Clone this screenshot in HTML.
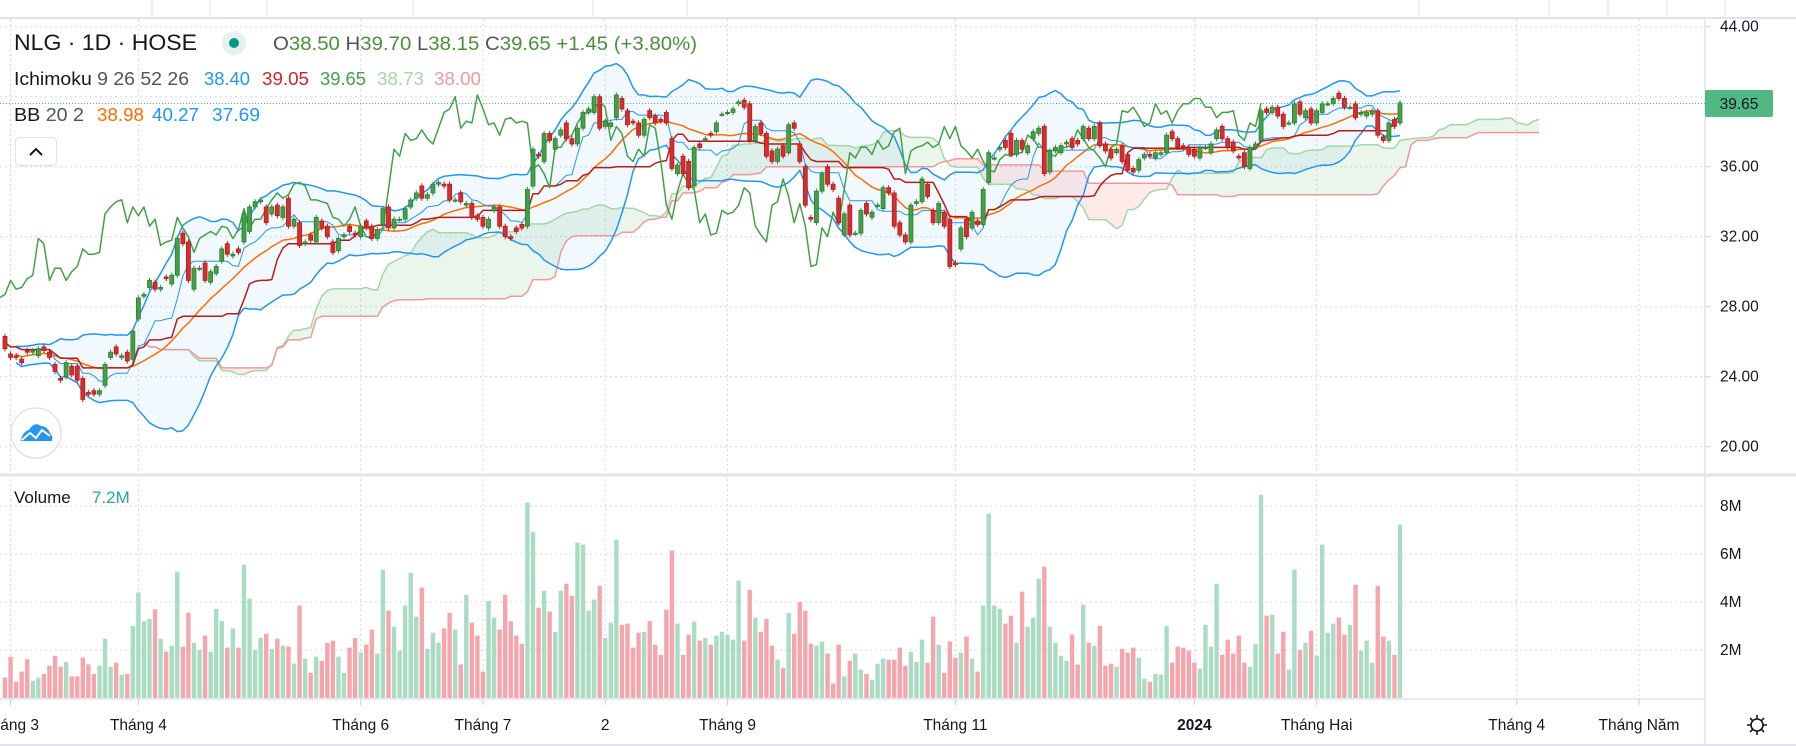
<!DOCTYPE html>
<html><head><meta charset="utf-8">
<style>
html,body{margin:0;padding:0;background:#fff;}
svg{display:block;font-family:"Liberation Sans",sans-serif;}
</style></head>
<body>
<svg id="chart" width="1796" height="746" viewBox="0 0 1796 746" xmlns="http://www.w3.org/2000/svg">
<defs>
<clipPath id="pclip"><rect x="0" y="19" width="1705" height="455"/></clipPath>
<clipPath id="vclip"><rect x="0" y="476" width="1705" height="223"/></clipPath>
</defs>
<rect x="0" y="0" width="1796" height="746" fill="#fff"/>
<g>
<line x1="0" y1="18" x2="1796" y2="18" stroke="#e0e3eb" stroke-width="2"/>
<line x1="152" y1="0" x2="152" y2="18" stroke="#e0e3eb"/>
<line x1="210" y1="0" x2="210" y2="18" stroke="#e0e3eb"/>
<line x1="267" y1="0" x2="267" y2="18" stroke="#e0e3eb"/>
<line x1="413" y1="0" x2="413" y2="18" stroke="#e0e3eb"/>
<line x1="593" y1="0" x2="593" y2="18" stroke="#e0e3eb"/>
<line x1="687" y1="0" x2="687" y2="18" stroke="#e0e3eb"/>
<line x1="1419" y1="0" x2="1419" y2="18" stroke="#e0e3eb"/>
<line x1="1549" y1="0" x2="1549" y2="18" stroke="#e0e3eb"/>
<line x1="1608" y1="0" x2="1608" y2="18" stroke="#e0e3eb"/>
<line x1="1667" y1="0" x2="1667" y2="18" stroke="#e0e3eb"/>
<line x1="1725" y1="0" x2="1725" y2="18" stroke="#e0e3eb"/>
</g>
<g id="grid"></g>
<line x1="1705" y1="18" x2="1705" y2="746" stroke="#e0e3eb" stroke-width="1.5"/>
<line x1="0" y1="475" x2="1796" y2="475" stroke="#e0e3eb" stroke-width="3"/>
<line x1="0" y1="699" x2="1705" y2="699" stroke="#e0e3eb" stroke-width="1.5"/>
<line x1="0" y1="745" x2="1796" y2="745" stroke="#e0e3eb" stroke-width="2"/>
<g id="price" clip-path="url(#pclip)"></g>
<g id="vol" clip-path="url(#vclip)"></g>
<g id="axes"></g>
<line x1="0" y1="103.5" x2="1705" y2="103.5" stroke="#4cb782" stroke-dasharray="1,2"/>
<rect x="1705" y="90" width="68" height="27" rx="2" fill="#52b883"/>
<text x="1739" y="109" font-size="15.5" fill="#131722" text-anchor="middle">39.65</text>

<g>
<text x="14" y="50" font-size="22" fill="#131722" textLength="183" lengthAdjust="spacingAndGlyphs">NLG · 1D · HOSE</text>
<circle cx="234" cy="43" r="12" fill="#e3f2ee"/>
<circle cx="234" cy="43" r="5" fill="#089981"/>
<text x="273" y="50" font-size="19" fill="#4b8f3c" textLength="424" lengthAdjust="spacingAndGlyphs"><tspan fill="#50535e">O</tspan>38.50 <tspan fill="#50535e">H</tspan>39.70 <tspan fill="#50535e">L</tspan>38.15 <tspan fill="#50535e">C</tspan>39.65 +1.45 (+3.80%)</text>
<text x="14" y="85" font-size="18" fill="#131722" textLength="175" lengthAdjust="spacingAndGlyphs">Ichimoku <tspan fill="#50535e">9 26 52 26</tspan></text>
<text x="204" y="85" font-size="18" fill="#2196f3" textLength="46" lengthAdjust="spacingAndGlyphs">38.40</text>
<text x="262" y="85" font-size="18" fill="#c62828" textLength="47" lengthAdjust="spacingAndGlyphs">39.05</text>
<text x="320" y="85" font-size="18" fill="#43a047" textLength="46" lengthAdjust="spacingAndGlyphs">39.65</text>
<text x="377" y="85" font-size="18" fill="#a5d6a7" textLength="47" lengthAdjust="spacingAndGlyphs">38.73</text>
<text x="434" y="85" font-size="18" fill="#ef9a9a" textLength="47" lengthAdjust="spacingAndGlyphs">38.00</text>
<text x="14" y="121" font-size="18" fill="#131722" textLength="70" lengthAdjust="spacingAndGlyphs">BB <tspan fill="#50535e">20 2</tspan></text>
<text x="97" y="121" font-size="18" fill="#ff6d00" textLength="47" lengthAdjust="spacingAndGlyphs">38.98</text>
<text x="152" y="121" font-size="18" fill="#2196f3" textLength="47" lengthAdjust="spacingAndGlyphs">40.27</text>
<text x="212" y="121" font-size="18" fill="#2196f3" textLength="48" lengthAdjust="spacingAndGlyphs">37.69</text>
<text x="14" y="503" font-size="17" fill="#131722">Volume</text>
<text x="92" y="503" font-size="17" fill="#22ab94">7.2M</text>
</g>
<g>
<rect x="15.5" y="137.5" width="41" height="28" rx="4" fill="#fff" stroke="#e0e3eb"/>
<path d="M30 155 L36 149 L42 155" fill="none" stroke="#131722" stroke-width="2"/>
</g>
<g>
<circle cx="36" cy="433" r="25" fill="#fff" stroke="#e0e3eb" stroke-width="1.5"/>
<path d="M21 441 Q22 432 29 430 Q34 421 41 426 Q47 426 50 433 Q53 436 52 441 Z" fill="#2196f3"/>
<path d="M22 440 L30 433 L36 438 L42 430 L50 436" fill="none" stroke="#fff" stroke-width="2"/>
</g>
<g transform="translate(1757,725)">
<circle cx="0" cy="0" r="6" fill="none" stroke="#131722" stroke-width="1.6"/>
<path d="M0 -10 V-6 M0 6 V10 M-10 0 H-6 M6 0 H10 M-7 -7 L-4.2 -4.2 M4.2 4.2 L7 7 M-7 7 L-4.2 4.2 M4.2 -4.2 L7 -7" stroke="#131722" stroke-width="1.6"/>
</g>
</svg>
<script>
const opens=[26.3,25.3,25.2,25.0,25.5,25.4,25.2,25.7,25.4,24.7,
23.9,24.0,24.6,24.6,23.9,23.1,23.2,23.0,23.5,25.1,
25.7,25.1,25.4,25.0,27.3,28.6,29.1,29.4,29.0,29.7,
29.3,29.8,32.2,31.7,29.0,30.2,30.5,29.4,29.9,30.6,
31.6,30.9,31.3,31.7,32.3,33.7,34.0,33.7,33.3,33.8,
33.1,34.2,32.6,32.8,31.6,32.1,31.7,32.9,32.6,31.7,
31.2,32.0,32.6,32.2,32.0,32.9,32.6,31.9,32.7,33.7,
32.5,33.0,33.0,33.7,34.2,34.9,34.2,34.5,35.0,35.0,
35.0,34.1,34.5,33.8,33.9,33.2,33.1,32.5,33.5,33.7,
32.6,32.0,32.5,32.7,32.6,34.9,36.7,36.3,37.9,37.0,
37.8,38.5,37.6,37.3,38.2,39.1,39.1,40.0,38.3,38.3,
38.8,39.9,39.2,38.6,38.5,37.8,39.2,38.9,38.7,39.1,
37.6,35.6,36.6,36.3,34.9,37.3,37.6,37.9,38.0,39.0,
39.1,39.1,39.6,39.8,39.6,37.5,38.5,37.9,36.9,36.3,
37.2,36.8,38.5,37.3,36.0,33.1,32.8,34.6,36.0,35.0,
34.2,32.1,33.8,32.2,32.2,33.9,33.1,33.8,33.6,34.8,
34.5,32.8,32.1,31.7,33.9,34.0,35.0,33.5,32.8,33.4,
33.0,30.5,31.3,33.0,32.5,32.9,32.7,35.1,36.5,37.0,
37.5,37.9,36.7,37.5,36.8,37.6,37.9,38.3,35.7,36.9,
36.8,37.3,37.6,37.5,37.6,38.2,37.6,38.5,37.3,37.0,
36.8,37.2,36.7,35.9,35.8,36.5,36.7,36.5,36.7,36.8,
38.0,37.6,37.2,37.1,37.0,36.5,37.1,36.8,37.6,38.3,
37.6,37.4,36.6,36.8,35.9,37.1,37.5,39.3,39.1,39.4,
39.0,38.5,38.5,39.7,38.8,39.3,38.5,39.1,39.6,39.6,
40.2,39.9,39.4,39.6,39.0,38.9,39.0,39.2,37.7,37.5,
38.7,38.5];
const closes=[25.6,25.1,25.1,24.8,25.4,25.5,25.6,25.5,25.1,24.3,
23.8,24.8,24.1,23.8,22.7,23.0,23.0,23.2,24.7,25.4,
25.3,25.2,24.9,26.6,28.5,28.7,29.5,29.0,29.1,29.6,
29.8,31.9,31.6,29.5,30.2,30.2,29.5,30.0,30.3,31.3,
31.0,31.0,31.1,33.3,33.7,34.0,34.1,32.8,33.7,33.2,
33.7,32.6,33.0,31.5,31.7,31.8,33.1,32.5,32.0,31.1,
31.9,32.1,32.3,32.1,32.6,32.5,31.9,32.4,33.6,32.5,
33.0,33.0,33.6,34.1,34.5,34.2,34.4,35.0,35.1,34.9,
34.1,34.1,34.0,33.9,33.1,33.0,32.6,33.0,33.7,32.6,
32.0,31.9,32.3,32.5,34.7,37.0,36.6,37.9,37.5,37.6,
38.1,37.6,37.3,38.2,39.1,39.3,40.0,38.2,38.6,38.5,
40.1,39.3,38.4,38.5,37.8,38.7,38.8,38.5,38.6,38.5,
35.9,36.1,35.6,34.8,37.1,37.1,37.6,37.8,38.5,39.0,
39.1,39.3,39.7,39.4,37.5,38.3,37.9,36.6,36.3,37.0,
36.6,38.4,38.2,36.3,33.8,33.0,34.6,35.6,35.0,34.7,
32.8,33.3,32.1,32.2,33.5,33.3,33.4,33.8,34.8,34.5,
32.6,32.1,31.7,33.8,34.0,35.3,34.3,32.8,33.9,32.6,
30.3,30.4,32.5,32.0,33.4,32.7,34.7,36.8,36.5,37.1,
37.1,36.7,37.5,37.0,37.2,38.0,38.2,35.6,36.9,37.1,
37.2,37.4,37.1,37.3,38.3,37.6,38.3,37.2,36.9,36.5,
37.0,36.3,35.8,35.7,36.4,36.7,36.6,36.8,36.8,37.8,
37.6,37.1,37.1,36.7,36.6,37.1,37.1,37.3,38.1,37.6,
37.1,36.9,36.5,36.0,37.1,37.3,39.2,39.1,39.4,38.9,
38.3,38.5,39.6,39.0,39.2,38.5,39.2,39.6,39.6,39.9,
39.9,39.4,39.4,38.8,39.1,39.1,39.2,37.8,37.5,38.5,
38.3,39.65];
const volumes=[0.85,1.72,0.68,1.1,1.62,0.72,0.85,1.0,1.35,1.76,
1.3,1.5,0.9,0.9,1.68,1.4,1.0,1.35,2.47,1.3,
1.47,0.97,1.0,3.0,4.4,3.2,3.3,3.7,2.47,1.93,
2.18,5.26,2.14,3.55,2.3,2.0,2.6,1.93,3.72,3.2,
2.1,2.9,2.1,5.56,4.14,2.0,2.5,2.68,2.05,2.47,
2.18,2.14,1.43,3.85,1.64,1.05,1.72,1.55,2.3,2.39,
1.72,1.05,2.1,2.5,1.9,2.22,2.85,1.85,5.35,3.64,
2.97,1.97,3.85,5.22,3.39,4.6,2.05,2.72,2.3,2.9,
3.55,2.85,1.4,4.3,3.14,2.6,1.1,4.05,3.35,2.85,
4.3,3.2,2.6,2.26,8.14,6.93,3.76,4.47,3.6,2.76,
4.47,4.76,4.26,6.47,6.39,3.64,4.1,4.68,2.5,3.14,
6.6,3.05,3.1,2.1,2.72,2.76,3.2,2.22,1.8,3.68,
6.14,3.1,1.8,2.64,3.18,2.39,2.5,2.22,2.6,2.76,
2.64,2.43,4.89,2.39,4.51,3.35,2.76,3.3,2.18,1.6,
1.26,3.55,2.68,4.0,3.64,2.26,2.18,2.35,1.85,0.6,
2.22,0.9,1.55,1.85,1.18,1.0,0.76,1.43,1.64,1.6,
1.6,2.1,1.35,1.93,1.5,2.43,1.47,3.39,2.22,1.05,
2.35,1.68,1.89,2.56,1.64,1.1,3.85,7.68,3.85,3.72,
3.1,3.43,2.3,4.43,2.97,3.35,4.97,5.47,2.97,2.3,
1.76,1.55,2.64,1.39,3.89,2.3,2.18,3.0,1.35,1.43,
1.3,2.05,1.89,2.1,1.68,0.8,0.68,1.0,0.97,3.0,
1.47,2.14,2.1,1.97,1.47,1.22,3.05,2.14,4.76,1.8,
2.43,1.85,2.6,1.47,1.3,2.26,8.47,3.43,3.47,1.85,
2.76,1.18,5.35,2.0,2.3,2.8,1.76,6.39,2.72,3.1,
3.35,2.64,3.05,4.72,1.97,2.39,1.47,4.68,2.56,2.39,
1.8,7.22];
const priceTicks=[44,40,36,32,28,24,20];
const volTicks=[2,4,6,8];
const volTickLabels=["2M","4M","6M","8M"];
const monthIdx=[1,24,64,86,108,130,171,214,236,272,294];
const monthLabels=["Tháng 3","Tháng 4","Tháng 6","Tháng 7","2","Tháng 9","Tháng 11","2024","Tháng Hai","Tháng 4","Tháng Năm"];
const WICK=0.15;

const NS="http://www.w3.org/2000/svg";
const N=closes.length;
const X0=5, DX=(1400-5)/(N-1);
function xAt(i){return X0+i*DX;}
function yP(p){return 26.7+(44-p)*17.5;}
function yV(v){return 698-v*24;}
function mk(tag,attrs,parent){const e=document.createElementNS(NS,tag);for(const k in attrs)e.setAttribute(k,attrs[k]);parent.appendChild(e);return e;}
const grid=document.getElementById('grid'),price=document.getElementById('price'),vol=document.getElementById('vol'),axes=document.getElementById('axes');

priceTicks.forEach(p=>{
  const l=mk('line',{x1:0,x2:1705,y1:yP(p),y2:yP(p),stroke:'#d6d8df','stroke-dasharray':'2,3'},grid);
  
  
  const t=mk('text',{x:1720,y:yP(p)+5,'font-size':15.5,fill:'#131722'},axes);
  t.textContent=p.toFixed(2);
  
  
  const tk=mk('line',{x1:1705,x2:1711,y1:yP(p),y2:yP(p),stroke:'#d1d4dc'},axes);
  
  
});
volTicks.forEach((v,k)=>{
  const l=mk('line',{x1:0,x2:1705,y1:yV(v),y2:yV(v),stroke:'#d6d8df','stroke-dasharray':'2,3'},grid);
  
  
  const t=mk('text',{x:1720,y:yV(v)+5,'font-size':15.5,fill:'#131722'},axes);
  t.textContent=volTickLabels[k];
  
  
});
monthIdx.forEach((mi,k)=>{
  const x=xAt(mi);
  const l=mk('line',{x1:x,x2:x,y1:19,y2:699,stroke:'#d6d8df','stroke-dasharray':'2,3'},grid);
  
  
  const tk=mk('line',{x1:x,x2:x,y1:699,y2:705,stroke:'#c9ccd4'},axes);
  
  
  const t=mk('text',{x:x,y:730,'font-size':15.5,fill:'#131722','text-anchor':'middle','font-weight':monthLabels[k]==='2024'?'bold':'normal'},axes);
  t.textContent=monthLabels[k];
  
  
});

const highs=opens.map((o,i)=>Math.max(o,closes[i])+WICK);
const lows=opens.map((o,i)=>Math.min(o,closes[i])-WICK);
function midWin(i,n){let hi=-1e9,lo=1e9;for(let j=Math.max(0,i-n+1);j<=i;j++){hi=Math.max(hi,highs[j]);lo=Math.min(lo,lows[j]);}return (hi+lo)/2;}
const tenkan=[],kijun=[],spanA=[],spanB=[];
for(let i=0;i<N;i++){tenkan.push(midWin(i,9));kijun.push(midWin(i,26));spanA.push((tenkan[i]+kijun[i])/2);spanB.push(midWin(i,52));}
const SH=25;

for(let i=0;i<N-1;i++){
  const x1=xAt(i+SH),x2=xAt(i+1+SH);
  const a1=spanA[i],a2=spanA[i+1],b1=spanB[i],b2=spanB[i+1];
  const up=(a1+a2)>=(b1+b2);
  const pg=mk('polygon',{points:`${x1},${yP(a1)} ${x2},${yP(a2)} ${x2},${yP(b2)} ${x1},${yP(b1)}`,fill:up?'rgba(67,160,71,0.11)':'rgba(244,67,54,0.11)'},price);
  
  
}
function line(arr,shift,color,w,name,start){
  let d='';for(let i=start||0;i<arr.length;i++){d+=(d?'L':'M')+xAt(i+shift).toFixed(1)+' '+yP(arr[i]).toFixed(1);}
  const p=mk('path',{d:d,fill:'none',stroke:color,'stroke-width':w,'stroke-linejoin':'round'},price);
  
  
}
const bbMid=[],bbUp=[],bbLo=[];
for(let i=0;i<N;i++){const s=Math.max(0,i-19);const w=closes.slice(s,i+1);const m=w.reduce((a,b)=>a+b,0)/w.length;const sd=Math.sqrt(w.reduce((a,b)=>a+(b-m)*(b-m),0)/w.length);bbMid.push(m);bbUp.push(m+2*sd);bbLo.push(m-2*sd);}
let fd='';for(let i=2;i<N;i++)fd+=(fd?'L':'M')+xAt(i)+' '+yP(bbUp[i]);for(let i=N-1;i>=2;i--)fd+='L'+xAt(i)+' '+yP(bbLo[i]);fd+='Z';
const bf=mk('path',{d:fd,fill:'rgba(33,150,243,0.06)'},price);


line(spanA,SH,'#a5d6a7',1.5,'ichimoku-lead1-line');
line(spanB,SH,'#ef9a9a',1.5,'ichimoku-lead2-line');
line(bbUp,0,'#2196f3',1.5,'bb-upper-line',2);
line(bbLo,0,'#2196f3',1.5,'bb-lower-line',2);
line(bbMid,0,'#ff6d00',1.5,'bb-basis-line',2);
line(tenkan,0,'#2196f3',1,'ichimoku-conversion-line');
line(kijun,0,'#b71c1c',1.5,'ichimoku-base-line');
line(closes,-SH,'#43a047',1.5,'ichimoku-lagging-line');

for(let i=0;i<N;i++){
  const x=xAt(i),o=opens[i],c=closes[i],up=c>=o;
  const wk=mk('line',{x1:x,x2:x,y1:yP(highs[i]),y2:yP(lows[i]),stroke:up?'#388e3c':'#b71c1c','stroke-width':1},price);
  
  
  const top=yP(Math.max(o,c)),h=Math.max(1.2,yP(Math.min(o,c))-top);
  const b=mk('rect',{x:x-2,y:top,width:4,height:h,fill:up?'#43a047':'#d32f2f',stroke:up?'#2e7d32':'#b71c1c','stroke-width':0.8},price);
  
  
  const vy=yV(volumes[i]);
  const vb=mk('rect',{x:x-2.2,y:vy,width:4.4,height:698-vy,fill:up?'#a9dcc3':'#f5a6ac'},vol);
  
  
}
</script>
</body></html>
